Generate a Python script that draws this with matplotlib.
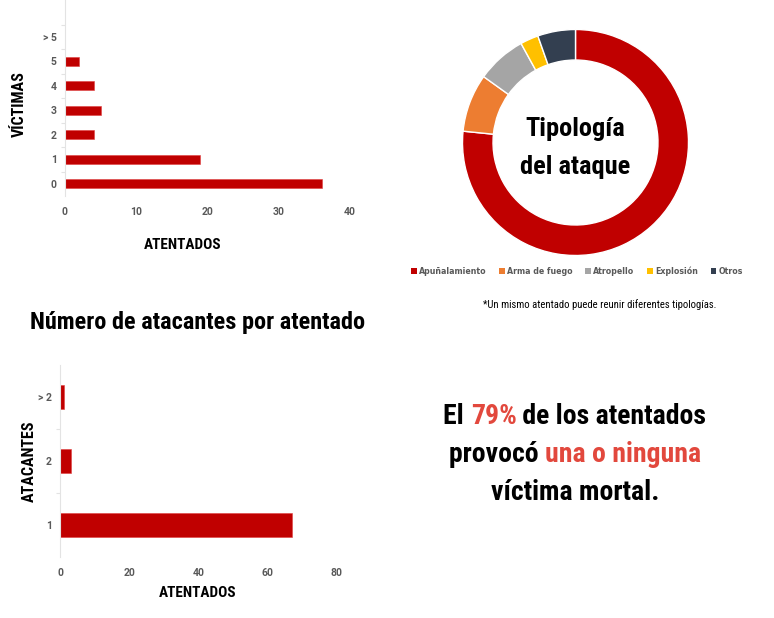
import matplotlib
matplotlib.use("Agg")
import matplotlib.pyplot as plt
import logging
logging.getLogger('matplotlib.font_manager').setLevel(logging.ERROR)

# ---- data ----
victimas_cats = ["0", "1", "2", "3", "4", "5", "> 5", ""]
victimas_vals = [36, 19, 4, 5, 4, 2, 0, 0]
victimas_xticks = [0, 10, 20, 30, 40]

atacantes_cats = ["1", "2", "> 2"]
atacantes_vals = [67, 3, 1]
atacantes_xticks = [0, 20, 40, 60, 80]

tipo_labels = ["Apuñalamiento", "Arma de fuego", "Atropello", "Explosión", "Otros"]
tipo_vals = [76.6, 8.3, 7.1, 2.6, 5.4]
tipo_colors = ["#C00000", "#ED7D31", "#A5A5A5", "#FFC000", "#333F50"]

BAR = "#C00000"
HL = "#E2483D"
COND = ['Roboto Condensed', 'Liberation Sans Narrow', 'Roboto', 'DejaVu Sans']
TICKF = ['Roboto', 'DejaVu Sans']
GRAY = "#595959"

W, H = 774, 618
fig = plt.figure(figsize=(W / 100, H / 100), dpi=100)
fig.patch.set_facecolor("white")


def px_axes(l, t, r, b):
    return fig.add_axes([l / W, 1 - b / H, (r - l) / W, (b - t) / H])


def style_bar_axes(ax, cats, xticks):
    tick_font = dict(fontfamily=TICKF, fontweight="bold", fontsize=7.5, color=GRAY)
    y = list(range(len(cats)))
    ax.set_yticks(y, cats, **tick_font)
    ax.set_yticks([i - 0.5 for i in range(1, len(cats))], minor=True)
    ax.set_xticks(xticks, [str(v) for v in xticks], **tick_font)
    for s in ["top", "right", "bottom"]:
        ax.spines[s].set_visible(False)
    ax.spines["left"].set_color("#E3E3E3")
    ax.spines["left"].set_linewidth(0.8)
    ax.tick_params(axis="x", length=0, pad=8)
    ax.tick_params(axis="y", which="major", length=0, pad=6)
    ax.tick_params(axis="y", which="minor", length=3, color="#E3E3E3", width=0.8)


# ---- top bar chart: víctimas ----
ax1 = px_axes(65, 0, 350, 196)
ax1.barh(range(len(victimas_cats)), victimas_vals, height=0.37, color=BAR,
         edgecolor="#E04040", linewidth=0.4)
ax1.set_xlim(0, 40)
ax1.set_ylim(-0.5, len(victimas_cats) - 0.5)
style_bar_axes(ax1, victimas_cats, victimas_xticks)
fig.text(19 / W, 1 - 104 / H, "VÍCTIMAS", rotation=90, ha="center", va="center",
         fontsize=11.5, fontweight="bold", family=COND)
fig.text(183 / W, 1 - 245 / H, "ATENTADOS", ha="center", va="center",
         fontsize=11, fontweight="bold", family=COND)

# ---- title ----
fig.text(198 / W, 1 - 322 / H, "Número de atacantes por atentado", ha="center", va="center",
         fontsize=17.5, fontweight="bold", family=COND)

# ---- bottom bar chart: atacantes ----
ax2 = px_axes(60.3, 365, 336.7, 557)
ax2.barh(range(len(atacantes_cats)), atacantes_vals, height=0.36, color=BAR,
         edgecolor="#E04040", linewidth=0.4)
ax2.set_xlim(0, 80)
ax2.set_ylim(-0.5, len(atacantes_cats) - 0.5)
style_bar_axes(ax2, atacantes_cats, atacantes_xticks)
fig.text(29 / W, 1 - 461 / H, "ATACANTES", rotation=90, ha="center", va="center",
         fontsize=11.5, fontweight="bold", family=COND)
fig.text(198 / W, 1 - 593 / H, "ATENTADOS", ha="center", va="center",
         fontsize=11, fontweight="bold", family=COND)

# ---- donut ----
ax3 = px_axes(462.5, 29.5, 688.5, 255.5)
wedges, _ = ax3.pie(tipo_vals, colors=tipo_colors, startangle=90, counterclock=False,
                    radius=1.0, wedgeprops=dict(width=0.27, edgecolor="white", linewidth=1.0))
ax3.set_xlim(-1, 1)
ax3.set_ylim(-1, 1)
ax3.set_aspect("equal")
ax3.text(0, 0.12, "Tipología", ha="center", va="center", fontsize=19, fontweight="bold", family=COND)
ax3.text(0, -0.22, "del ataque", ha="center", va="center", fontsize=19, fontweight="bold", family=COND)

leg = fig.legend(wedges, tipo_labels, loc="center", bbox_to_anchor=(577 / W, 1 - 271 / H),
                 ncol=5, frameon=False, handlelength=0.7, handleheight=0.7, handletextpad=0.3,
                 columnspacing=1.6, prop=dict(family=['DejaVu Sans'], weight="bold", size=5.7))
for t in leg.get_texts():
    t.set_color(GRAY)
for h in leg.legend_handles:
    h.set_edgecolor("none")

fig.text(600 / W, 1 - 305 / H, "*Un mismo atentado puede reunir diferentes tipologías.",
         ha="center", va="center", fontsize=7.7, family=COND)

# ---- highlight text ----
def rich_line(y, parts, size=20):
    r = fig.canvas.get_renderer()
    texts = []
    for s, c in parts:
        t = fig.text(0, 1 - y / H, s, ha="left", va="center", fontsize=size,
                     fontweight="bold", family=COND, color=c)
        texts.append(t)
    widths = [t.get_window_extent(r).width for t in texts]
    total = sum(widths)
    x = 575 - total / 2
    for t, w in zip(texts, widths):
        t.set_x(x / W)
        x += w

rich_line(416, [("El ", "black"), ("79%", HL), (" de los atentados", "black")])
rich_line(455, [("provocó ", "black"), ("una o ninguna", HL)])
rich_line(493, [("víctima mortal.", "black")])

fig.savefig("out.png", dpi=100, facecolor="white")
